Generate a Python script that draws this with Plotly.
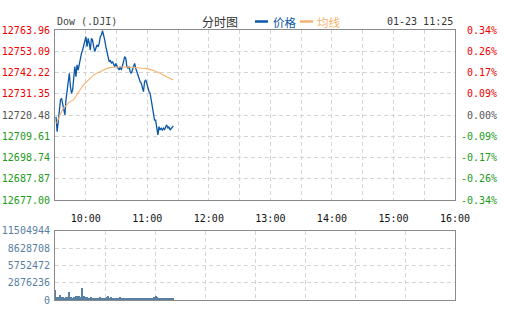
import numpy as np
import plotly.graph_objects as go

# ---------------- data ----------------
price_ticks = [12677.00, 12687.87, 12698.74, 12709.61, 12720.48,
               12731.35, 12742.22, 12753.09, 12763.96]
price_tick_labels = ["12677.00", "12687.87", "12698.74", "12709.61", "12720.48",
                     "12731.35", "12742.22", "12753.09", "12763.96"]
pct_tick_labels = ["-0.34%", "-0.26%", "-0.17%", "-0.09%", "0.00%",
                   "0.09%", "0.17%", "0.26%", "0.34%"]
prev_close = 12720.48

hour_ticks = [0, 30, 60, 90, 120, 150, 180, 210, 240, 270, 300, 330, 360, 390]
hour_labels = ["", "10:00", "", "11:00", "", "12:00", "", "13:00", "", "14:00",
               "", "15:00", "", "16:00"]

vol_ticks = [0, 2876236, 5752472, 8628708, 11504944]
vol_tick_labels = ["0", "2876236", "5752472", "8628708", "11504944"]

price = [12719.6, 12712.0, 12717.1, 12723.9, 12728.2, 12729.0, 12725.6, 12723.0, 12720.5, 12728.2,
         12733.3, 12739.2, 12741.8, 12735.0, 12731.6, 12733.3, 12741.8, 12745.2, 12740.1, 12746.1,
         12743.5, 12746.9, 12748.5, 12752.0, 12753.7, 12756.3, 12758.8, 12760.5, 12755.4, 12759.7,
         12757.1, 12753.7, 12759.7, 12758.8, 12755.4, 12752.9, 12754.6, 12756.3, 12755.4, 12757.1,
         12760.5, 12761.4, 12763.6, 12761.4, 12758.8, 12755.4, 12752.9, 12749.5, 12747.8, 12748.5,
         12746.9, 12747.8, 12746.1, 12745.2, 12746.9, 12745.2, 12744.4, 12743.5, 12745.2, 12743.5,
         12745.2, 12747.8, 12750.3, 12749.5, 12745.2, 12744.4, 12745.2, 12742.6, 12741.8, 12743.5,
         12745.2, 12746.9, 12744.4, 12742.6, 12740.1, 12739.2, 12737.5, 12736.7, 12735.0, 12732.4,
         12737.5, 12738.4, 12736.7, 12734.1, 12732.4, 12731.6, 12728.2, 12724.7, 12721.3, 12717.9,
         12717.9, 12714.5, 12710.3, 12714.5, 12712.8, 12713.7, 12712.8, 12713.7, 12712.8, 12714.5,
         12715.4, 12713.7, 12714.5, 12712.8, 12713.7, 12714.5, 12714.9]
price_minutes = np.linspace(1.0, 115.4, len(price))

avg_minutes = [1.6, 4.9, 8.1, 11.4, 14.6, 17.9, 21.1, 24.4, 27.6, 30.9, 34.1, 37.4, 40.6, 43.9,
               47.1, 50.4, 53.6, 56.9, 63.4, 69.9, 76.4, 82.9, 89.4, 95.9, 102.4, 108.9, 115.4]
avg_price = [12716.2, 12720.5, 12723.9, 12725.6, 12727.3, 12728.2, 12730.7, 12733.3, 12735.8,
             12737.5, 12739.2, 12740.9, 12741.8, 12742.6, 12743.5, 12744.2, 12744.7, 12744.9,
             12745.0, 12745.0, 12744.9, 12744.5, 12744.2, 12743.2, 12741.8, 12740.1, 12738.4]

volume = [1660000, 520000, 430000, 600000, 480000, 850000, 520000, 450000, 480000, 400000,
          450000, 500000, 420000, 480000, 1300000, 520000, 600000, 450000, 400000, 480000,
          700000, 650000, 420000, 700000, 600000, 550000, 2000000, 500000, 650000, 450000,
          480000, 520000, 420000, 450000, 400000, 480000, 380000, 450000, 420000, 400000,
          450000, 380000, 430000, 400000, 470000, 380000, 420000, 450000, 400000, 380000,
          430000, 520000, 650000, 450000, 400000, 600000, 430000, 380000, 420000, 450000,
          400000, 380000, 430000, 470000, 400000, 380000, 420000, 400000, 450000, 380000,
          430000, 400000, 380000, 420000, 450000, 400000, 380000, 430000, 400000, 420000,
          380000, 450000, 400000, 380000, 420000, 400000, 380000, 430000, 400000, 450000,
          380000, 420000, 400000, 380000, 430000, 400000, 450000, 600000, 700000, 520000,
          450000, 400000, 380000, 420000, 400000, 380000, 350000, 400000, 380000, 360000,
          380000, 350000, 370000, 360000, 350000, 380000]
vol_minutes = list(range(len(volume)))

# ---------------- style ----------------
W, H = 505, 330
FONT = "DejaVu Sans Mono"
RED, GRAY, GREEN = "#f00000", "#555555", "#1c9a1c"
VOLC = "#587fa4"
GRID = "#d4d4d4"
BORDER = "#8a8a8a"


def px_x(p):
    return p / W


def px_y(p):
    return 1 - p / H


def col(v):
    if v > prev_close + 0.001:
        return RED
    if v < prev_close - 0.001:
        return GREEN
    return GRAY


left_text = [f'<span style="color:{col(v)}">{t}</span>' for v, t in zip(price_ticks, price_tick_labels)]
right_text = [f'<span style="color:{col(v)}">{"&nbsp;" * (6 - len(t))}{t}</span>'
              for v, t in zip(price_ticks, pct_tick_labels)]

fig = go.Figure()
fig.add_trace(go.Scatter(x=price_minutes, y=price, mode="lines",
                         line=dict(color="#0b58a8", width=1.3), xaxis="x", yaxis="y",
                         hoverinfo="skip"))
fig.add_trace(go.Scatter(x=avg_minutes, y=avg_price, mode="lines",
                         line=dict(color="#f6b26e", width=1.1, shape="spline"), xaxis="x", yaxis="y",
                         hoverinfo="skip"))
fig.add_trace(go.Scatter(x=[None], y=[None], xaxis="x", yaxis="y3", showlegend=False))
fig.add_trace(go.Bar(x=vol_minutes, y=volume, marker=dict(color=VOLC, line=dict(width=0)),
                     width=1.0, xaxis="x2", yaxis="y2", hoverinfo="skip"))

xdom = [px_x(55), px_x(455)]
axis_common = dict(showline=True, mirror=True, linecolor=BORDER, linewidth=1,
                   gridcolor=GRID, griddash="4px,3px", gridwidth=1, zeroline=False,
                   ticks="", fixedrange=True, automargin=False)

fig.update_layout(
    width=W, height=H, margin=dict(l=0, r=0, t=0, b=0, autoexpand=False),
    paper_bgcolor="white", plot_bgcolor="white", showlegend=False,
    bargap=0,
    font=dict(family=FONT, size=10, color="#333"),
    xaxis=dict(domain=xdom, anchor="y", range=[0, 390], tickmode="array",
               tickvals=hour_ticks, ticktext=hour_labels, showgrid=True,
               tickfont=dict(family=FONT, size=10, color="#111"),
               ticklabelstandoff=9, **axis_common),
    yaxis=dict(domain=[px_y(200), px_y(30)], anchor="x", range=[price_ticks[0], price_ticks[-1]],
               tickmode="array", tickvals=price_ticks, ticktext=left_text, showgrid=True,
               tickfont=dict(family=FONT, size=10), ticklabelstandoff=2, **axis_common),
    yaxis3=dict(overlaying="y", side="right", anchor="x", range=[price_ticks[0], price_ticks[-1]],
                tickmode="array", tickvals=price_ticks, ticktext=right_text, showgrid=False,
                showline=False, zeroline=False, ticks="", automargin=False,
                ticklabelstandoff=5, tickfont=dict(family=FONT, size=10)),
    xaxis2=dict(domain=xdom, anchor="y2", range=[0, 390], tickmode="array",
                tickvals=[48.75 * k for k in range(9)], showticklabels=False, showgrid=True,
                **axis_common),
    yaxis2=dict(domain=[px_y(300), px_y(230.7)], anchor="x2", range=[0, vol_ticks[-1]],
                tickmode="array", tickvals=vol_ticks, ticktext=vol_tick_labels, showgrid=True,
                tickfont=dict(family=FONT, size=10, color=VOLC), ticklabelstandoff=2,
                **axis_common),
)

# header texts
ann = [
    dict(text="Dow (.DJI)", x=px_x(55), y=px_y(22), xanchor="left", yanchor="middle",
         font=dict(family=FONT, size=10, color="#444")),
    dict(text="分时图", x=px_x(200), y=px_y(22), xanchor="left", yanchor="middle",
         font=dict(family="Noto Sans CJK SC", size=12, color="#333")),
    dict(text="价格", x=px_x(271), y=px_y(22), xanchor="left", yanchor="middle",
         font=dict(family="Noto Sans CJK SC", size=11.5, color="#0b58a8")),
    dict(text="均线", x=px_x(315), y=px_y(22), xanchor="left", yanchor="middle",
         font=dict(family="Noto Sans CJK SC", size=11.5, color="#f6b26e")),
    dict(text="01-23 11:25", x=px_x(455), y=px_y(22), xanchor="right", yanchor="middle",
         font=dict(family=FONT, size=10, color="#333")),
]
for a in ann:
    a.update(xref="paper", yref="paper", showarrow=False)
fig.update_layout(annotations=ann)

fig.update_layout(shapes=[
    dict(type="line", xref="paper", yref="paper", x0=px_x(255), x1=px_x(268),
         y0=px_y(21.5), y1=px_y(21.5), line=dict(color="#0b58a8", width=2.5)),
    dict(type="line", xref="paper", yref="paper", x0=px_x(300), x1=px_x(313),
         y0=px_y(21.5), y1=px_y(21.5), line=dict(color="#f6b26e", width=2.5)),
])

fig.write_html("out.html")
